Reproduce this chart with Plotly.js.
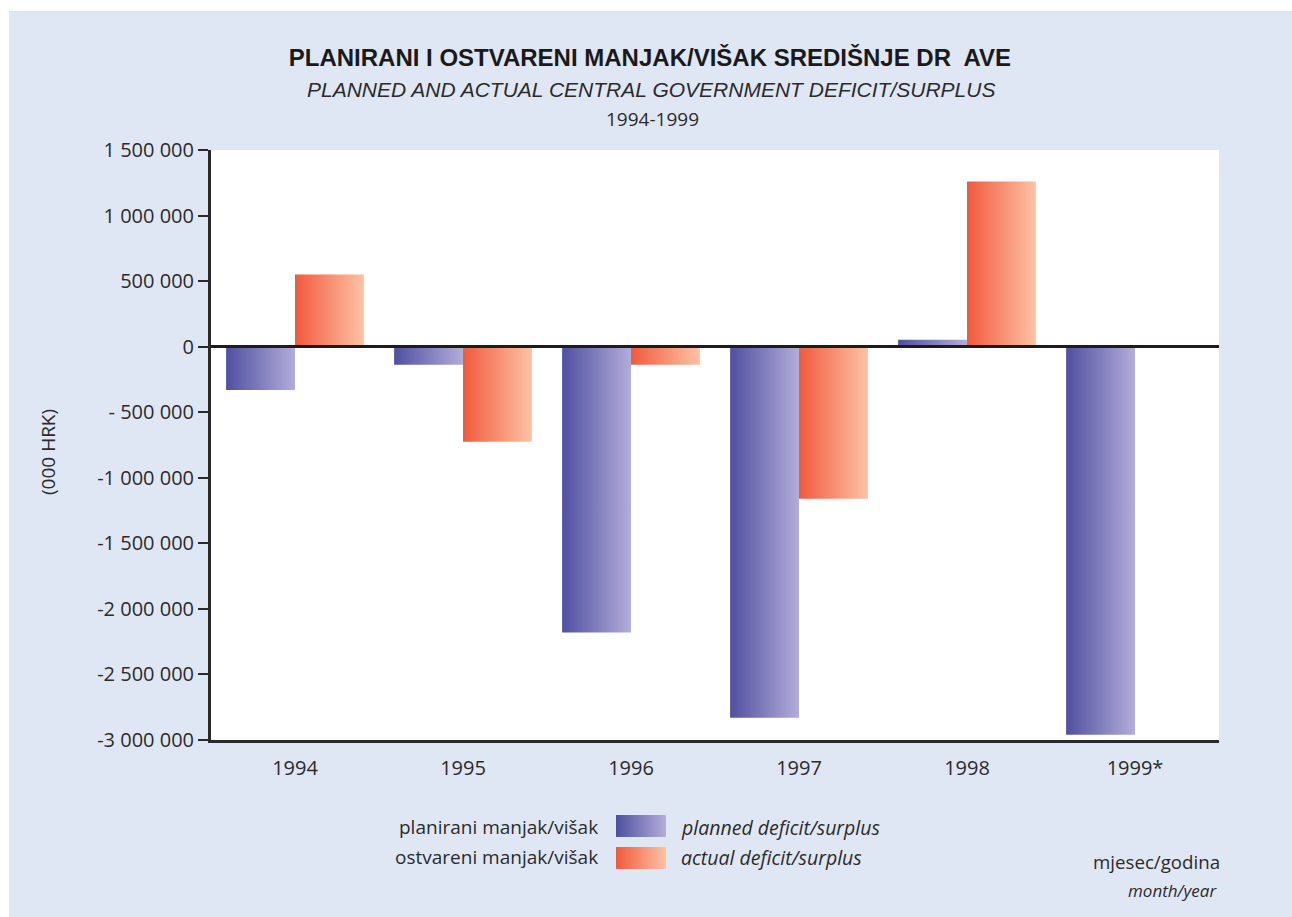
<!DOCTYPE html>
<html>
<head>
<meta charset="utf-8">
<script src="https://cdn.plot.ly/plotly-3.0.1.min.js"></script>
<style>html,body{margin:0;padding:0;background:#fff;}#chart{width:1292px;height:917px;}</style>
</head>
<body>
<div id="chart"></div>
<script>
// ---- data ----
const years = ["1994", "1995", "1996", "1997", "1998", "1999*"];
const planned = [-330000, -137000, -2180000, -2830000, 53000, -2960000];
const actual = [550000, -725000, -137000, -1160000, 1260000, null];
const yTickVals = [1500000, 1000000, 500000, 0, -500000, -1000000, -1500000, -2000000, -2500000, -3000000];
const yTickText = ["1 500 000", "1 000 000", "500 000", "0", "- 500 000", "-1 000 000", "-1 500 000", "-2 000 000", "-2 500 000", "-3 000 000"];
const seriesHr = ["planirani manjak/višak", "ostvareni manjak/višak"];
const seriesEn = ["planned deficit/surplus", "actual deficit/surplus"];

// ---- style ----
const plannedScale = [[0, "#4f4fa1"], [1, "#b3add9"]];
const actualScale = [[0, "#f15a3d"], [1, "#fcc3a6"]];
const barW = 0.41;
const FONT = "Open Sans, Liberation Sans, sans-serif";
const TXT = "#2b2b2b";

const traces = [];
function addBars(vals, scale, a, b, name) {
  vals.forEach((v, i) => {
    if (v === null || v === undefined) return;
    traces.push({
      type: "scatter", mode: "lines", fill: "toself",
      x: [i + a, i + b, i + b, i + a, i + a],
      y: [0, 0, v, v, 0],
      line: {width: 0, color: "rgba(0,0,0,0)"},
      fillgradient: {type: "horizontal", colorscale: scale},
      name: name, showlegend: false,
      hoverinfo: "text", text: name + " " + years[i] + ": " + v,
      xaxis: "x", yaxis: "y"
    });
  });
}
addBars(planned, plannedScale, -barW, 0, seriesEn[0]);
addBars(actual, actualScale, 0, barW, seriesEn[1]);

// legend swatches (own little axes)
[[plannedScale, "x2", "y2"], [actualScale, "x3", "y3"]].forEach(([sc, xa, ya]) => {
  traces.push({
    type: "scatter", mode: "lines", fill: "toself",
    x: [0, 1, 1, 0, 0], y: [0, 0, 1, 1, 0],
    line: {width: 0, color: "rgba(0,0,0,0)"},
    fillgradient: {type: "horizontal", colorscale: sc},
    showlegend: false, hoverinfo: "skip", xaxis: xa, yaxis: ya
  });
});

// pixel -> paper helpers (plot area: l=211, r=73, t=150, b=0)
const px = p => (p - 211) / 1008;
const py = p => (917 - p) / 767;

const hiddenAx = (dom, anchor) => ({domain: dom, anchor: anchor, range: [0, 1], visible: false, fixedrange: true});

const layout = {
  width: 1292, height: 917,
  margin: {l: 211, r: 73, t: 150, b: 0},
  paper_bgcolor: "#ffffff",
  plot_bgcolor: "rgba(0,0,0,0)",
  font: {family: FONT, color: TXT, size: 18},
  showlegend: false,
  title: {
    text: "<b>PLANIRANI I OSTVARENI MANJAK/VIŠAK SREDIŠNJE DR  AVE</b>",
    font: {family: "Liberation Sans, Arial, sans-serif", size: 24, color: "#1a1a1a"},
    xref: "container", x: 0.503, xanchor: "center",
    yref: "container", y: 1 - 58 / 917, yanchor: "middle"
  },
  xaxis: {
    domain: [0, 1], anchor: "y",
    range: [-0.5, 5.5], tickvals: [0, 1, 2, 3, 4, 5], ticktext: years,
    showgrid: false, zeroline: false, ticks: "",
    showline: true, linecolor: "#2a2a2a", linewidth: 3,
    tickfont: {family: FONT, size: 20, color: TXT},
    ticklabelstandoff: 8,
    fixedrange: true
  },
  yaxis: {
    domain: [py(740), 1], anchor: "x",
    range: [-3000000, 1500000], tickvals: yTickVals, ticktext: yTickText,
    showgrid: false,
    zeroline: true, zerolinecolor: "#1f1b1c", zerolinewidth: 2.5, zerolinelayer: "above traces",
    ticks: "outside", ticklen: 10, tickwidth: 2, tickcolor: "#2a2a2a",
    showline: true, linecolor: "#2a2a2a", linewidth: 3,
    tickfont: {family: FONT, size: 20, color: TXT},
    fixedrange: true
  },
  xaxis2: hiddenAx([px(616), px(666)], "y2"),
  yaxis2: hiddenAx([py(837), py(815)], "x2"),
  xaxis3: hiddenAx([px(616), px(666)], "y3"),
  yaxis3: hiddenAx([py(869), py(847)], "x3"),
  shapes: [
    {type: "rect", xref: "paper", yref: "paper", x0: px(9), x1: px(1300), y0: py(925), y1: py(11),
     fillcolor: "#e0e7f4", line: {width: 0}, layer: "below"},
    {type: "rect", xref: "x domain", yref: "y domain", x0: 0, x1: 1, y0: 0, y1: 1,
     fillcolor: "#ffffff", line: {width: 0}, layer: "below"}
  ],
  annotations: [
    {text: "<i>PLANNED AND ACTUAL CENTRAL GOVERNMENT DEFICIT/SURPLUS</i>", xref: "paper", yref: "paper",
     x: px(651), y: py(90), xanchor: "center", yanchor: "middle", showarrow: false,
     font: {family: "Liberation Sans, Arial, sans-serif", size: 21, color: TXT}},
    {text: "1994-1999", xref: "paper", yref: "paper",
     x: px(652), y: py(119), xanchor: "center", yanchor: "middle", showarrow: false,
     font: {family: FONT, size: 19, color: TXT}},
    {text: "(000 HRK)", xref: "paper", yref: "paper", textangle: -90,
     x: px(48), y: py(452), xanchor: "center", yanchor: "middle", showarrow: false,
     font: {family: FONT, size: 19, color: TXT}},
    {text: seriesHr[0], xref: "paper", yref: "paper", x: px(600), y: py(827),
     xanchor: "right", yanchor: "middle", showarrow: false, font: {family: FONT, size: 19, color: TXT}},
    {text: seriesHr[1], xref: "paper", yref: "paper", x: px(600), y: py(857),
     xanchor: "right", yanchor: "middle", showarrow: false, font: {family: FONT, size: 19, color: TXT}},
    {text: "<i>" + seriesEn[0] + "</i>", xref: "paper", yref: "paper", x: px(679), y: py(827),
     xanchor: "left", yanchor: "middle", showarrow: false, font: {family: FONT, size: 19.5, color: TXT}},
    {text: "<i>" + seriesEn[1] + "</i>", xref: "paper", yref: "paper", x: px(679), y: py(857),
     xanchor: "left", yanchor: "middle", showarrow: false, font: {family: FONT, size: 19.5, color: TXT}},
    {text: "mjesec/godina", xref: "paper", yref: "paper", x: px(1222), y: py(861),
     xanchor: "right", yanchor: "middle", showarrow: false, font: {family: FONT, size: 18.7, color: TXT}},
    {text: "<i>month/year</i>", xref: "paper", yref: "paper", x: px(1219), y: py(890),
     xanchor: "right", yanchor: "middle", showarrow: false, font: {family: FONT, size: 17, color: TXT}}
  ]
};

Plotly.newPlot("chart", traces, layout, {displayModeBar: false, staticPlot: true});
</script>
</body>
</html>
